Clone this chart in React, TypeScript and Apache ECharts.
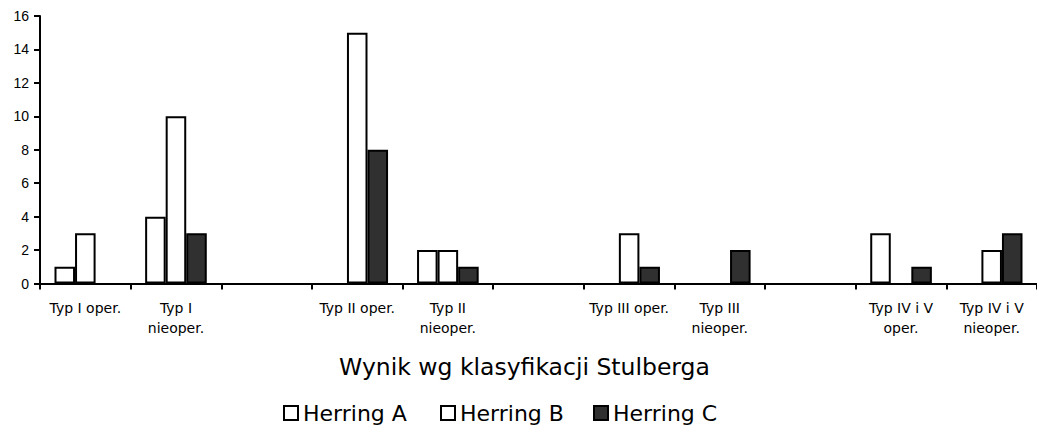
import React, { useEffect, useRef } from "react";
import * as echarts from "echarts";

const categories = [
  "Typ I oper.",
  "Typ I\nnieoper.",
  "",
  "Typ II oper.",
  "Typ II\nnieoper.",
  "",
  "Typ III oper.",
  "Typ III\nnieoper.",
  "",
  "Typ IV i V\noper.",
  "Typ IV i V\nnieoper.",
];

const herringA = [1, 4, 0, 0, 2, 0, 0, 0, 0, 3, 0];
const herringB = [3, 10, 0, 15, 2, 0, 3, 0, 0, 0, 2];
const herringC = [0, 3, 0, 8, 1, 0, 1, 2, 0, 1, 3];

const seriesNames = ["Herring A", "Herring B", "Herring C"];
const yTicks = { min: 0, max: 16, interval: 2 };
const axisTitle = "Wynik wg klasyfikacji Stulberga";

const DARK = "#303030";
const TEXT_FONT = "DejaVu Sans";

// zero counts draw no bar at all in the reference
const bars = (values: number[]) => values.map((v) => (v === 0 ? "-" : v));

export default function App() {
  const ref = useRef<HTMLDivElement>(null);

  useEffect(() => {
    if (!ref.current) return;
    const chart = echarts.init(ref.current, null, { renderer: "svg" });
    const barStyle = (fill: string) => ({
      color: fill,
      borderColor: "#000",
      borderWidth: 2,
    });
    const legendBase = {
      orient: "horizontal" as const,
      padding: 0,
      top: 402,
      icon: "rect",
      itemWidth: 14,
      itemHeight: 14,
      itemGap: 10,
      selectedMode: false,
      textStyle: { fontFamily: TEXT_FONT, fontSize: 22, color: "#000" },
    };
    chart.setOption({
      animation: false,
      backgroundColor: "#fff",
      grid: { left: 40, right: -5, top: 16, bottom: 427 - 283.5 },
      legend: [
        { ...legendBase, left: 283, data: [seriesNames[0]] },
        { ...legendBase, left: 440, data: [seriesNames[1]] },
        { ...legendBase, left: 593, data: [seriesNames[2]] },
      ],
      xAxis: {
        type: "category",
        data: categories,
        name: axisTitle,
        nameLocation: "middle",
        nameGap: 71,
        nameTextStyle: {
          fontFamily: TEXT_FONT,
          fontSize: 23.5,
          color: "#000",
          padding: [0, 28, 0, 0],
        },
        axisLine: { lineStyle: { color: "#000", width: 2 } },
        axisTick: {
          show: true,
          interval: 0,
          alignWithLabel: false,
          length: 6,
          lineStyle: { color: "#000", width: 2 },
        },
        axisLabel: {
          interval: 0,
          margin: 14,
          fontFamily: TEXT_FONT,
          fontSize: 14,
          lineHeight: 20,
          color: "#000",
        },
        splitLine: { show: false },
      },
      yAxis: {
        type: "value",
        min: yTicks.min,
        max: yTicks.max,
        interval: yTicks.interval,
        axisLine: { show: true, lineStyle: { color: "#000", width: 2 } },
        axisTick: { show: true, length: 6, lineStyle: { color: "#000", width: 2 } },
        axisLabel: {
          margin: 11,
          fontFamily: "Liberation Sans",
          fontSize: 14,
          color: "#000",
        },
        splitLine: { show: false },
      },
      series: [
        {
          name: seriesNames[0],
          type: "bar",
          data: bars(herringA),
          barGap: "0%",
          barCategoryGap: "32%",
          itemStyle: barStyle("#fff"),
        },
        {
          name: seriesNames[1],
          type: "bar",
          data: bars(herringB),
          barGap: "0%",
          barCategoryGap: "32%",
          itemStyle: barStyle("#fff"),
        },
        {
          name: seriesNames[2],
          type: "bar",
          data: bars(herringC),
          barGap: "0%",
          barCategoryGap: "32%",
          itemStyle: barStyle(DARK),
        },
      ],
    });
    return () => chart.dispose();
  }, []);

  return (
    <div
      ref={ref}
      style={{ position: "fixed", left: 0, top: 0, width: 1037, height: 427 }}
    />
  );
}
